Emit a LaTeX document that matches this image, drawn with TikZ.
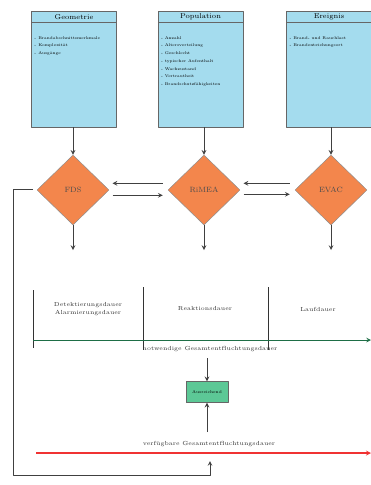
\documentclass[tikz,border=0pt]{standalone}
\usetikzlibrary{shapes.geometric}
\definecolor{boxblue}{RGB}{164,220,238}
\definecolor{diaorange}{RGB}{243,134,76}
\definecolor{boxgreen}{RGB}{92,200,150}
\definecolor{lineGreen}{RGB}{30,110,70}
\definecolor{lineRed}{RGB}{240,50,50}
\tikzset{
  infobox/.style={draw=black!60, fill=boxblue, minimum width=25.5mm, minimum height=34.8mm, inner sep=0},
  boxtitle/.style={font=\fontsize{6}{7}\selectfont},
  boxlist/.style={anchor=north west, align=left, inner sep=0, font=\fontsize{3.4}{6.6}\selectfont},
  sim/.style={diamond, draw=black!45, fill=diaorange, minimum width=21.6mm, minimum height=21mm, inner sep=0, font=\fontsize{6.5}{7}\selectfont, text=black!70},
  phase/.style={font=\fontsize{5}{6.5}\selectfont, align=center, text=black!80},
  result/.style={draw=black!60, fill=boxgreen, minimum width=12.6mm, minimum height=6.3mm, inner sep=0, font=\fontsize{3.5}{4}\selectfont},
  flow/.style={->, draw=black!75, thick}
}
\begin{document}
\begin{tikzpicture}[x=0.3mm, y=-0.3mm, line join=round, >=stealth]
\useasboundingbox (0,0) rectangle (371,485);
% input boxes
\node[infobox] (geo) at (74,69) {};
\node[infobox] (pop) at (200.5,69) {};
\node[infobox] (evt) at (329,69) {};
\foreach \b in {geo,pop,evt}
\draw[black!60] ([yshift=-3.3mm]\b.north west) -- ([yshift=-3.3mm]\b.north east);
\foreach \b/\t in {geo/Geometrie,pop/Population,evt/Ereignis}
\node[boxtitle] at ([yshift=-1.8mm]\b.north) {\t};
\node[boxlist] at ([shift={(0.9mm,-7.6mm)}]geo.north west)
  {- Brandabschnittsmerkmale\\- Komplexit\"at\\- Ausg\"ange};
\node[boxlist] at ([shift={(0.9mm,-7.6mm)}]pop.north west)
  {- Anzahl\\- Altersverteilung\\- Geschlecht\\- typischer Aufenthalt\\- Wachzustand\\- Vertrautheit\\- Brandschutzf\"ahigkeiten};
\node[boxlist] at ([shift={(0.9mm,-7.6mm)}]evt.north west)
  {- Brand- und Rauchlast\\- Brandentstehungsort};
% simulation models
\node[sim] (fds) at (73,190) {FDS};
\node[sim] (rimea) at (204,190) {RiMEA};
\node[sim] (evac) at (331,190) {EVAC};
\foreach \b/\s in {geo/fds,pop/rimea,evt/evac}
\draw[flow] (\s.north |- \b.south) -- (\s.north);
\draw[flow] ([shift={(-1.5mm,2mm)}]rimea.west) -- ([shift={(1mm,2mm)}]fds.east);
\draw[flow] ([shift={(1mm,-1.6mm)}]fds.east) -- ([shift={(-1.5mm,-1.6mm)}]rimea.west);
\draw[flow] ([shift={(-1.5mm,2mm)}]evac.west) -- ([shift={(1mm,2mm)}]rimea.east);
\draw[flow] ([shift={(1mm,-1.3mm)}]rimea.east) -- ([shift={(-1.5mm,-1.3mm)}]evac.west);
\path
(73,250) coordinate (fdsout)
(204,250) coordinate (rimeaout)
(331,250) coordinate (evacout)
;
\foreach \s in {fds,rimea,evac}
\draw[flow] (\s.south) -- (\s out);
% required evacuation time
\path
(33,340) coordinate (t0)
(143,340) coordinate (t1)
(268,340) coordinate (t2)
(371,340) coordinate (tend)
;
\draw[black!80] (33,290) -- (33,348);
\draw[black!80] (143,287) -- (143,350);
\draw[black!80] (268,287) -- (268,350);
\draw[->, lineGreen, thick] (t0) -- (tend);
\node[phase] (detekt) at (88,309) {Detektierungsdauer\\Alarmierungsdauer};
\node[phase] (reakt) at (205,309) {Reaktionsdauer};
\node[phase] (lauf) at (318,309) {Laufdauer};
\node[phase] (notw) at (210,349) {notwendige Gesamtentfluchtungsdauer};
% comparison
\node[result] (ausw) at (207,392) {Ausreichend};
\path
(207,358) coordinate (notwout)
(207,432) coordinate (verfout)
;
\draw[flow] (notwout) -- (ausw.north);
\draw[flow] (verfout) -- (ausw.south);
\node[phase] (verf) at (209,444) {verf\"ugbare Gesamtentfluchtungsdauer};
\draw[->, lineRed, line width=0.9pt] (36,453) -- (371,453);
% feedback from FDS
\path
(33,189) coordinate (fb0)
(210,461) coordinate (fb1)
;
\draw[flow] (fb0) -- (13,189) -- (13,475) -| (fb1);
\end{tikzpicture}
\end{document}
